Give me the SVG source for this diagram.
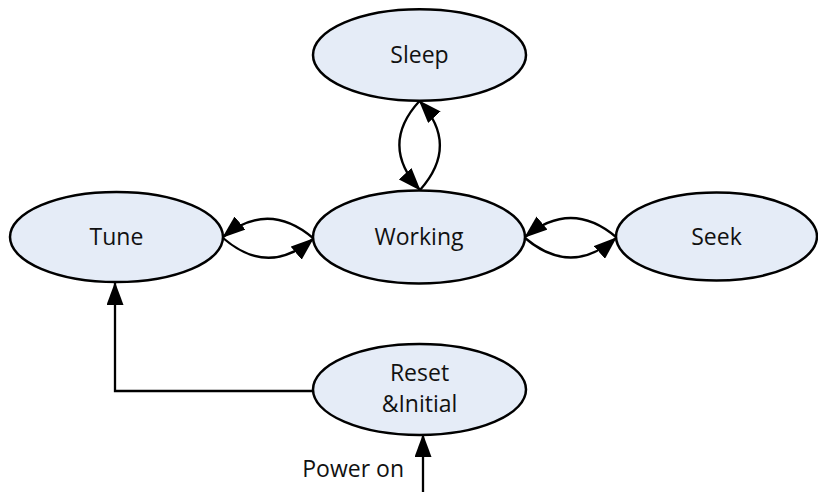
<svg xmlns="http://www.w3.org/2000/svg" width="818" height="492" viewBox="0 0 818 492">
  <style>
    .node ellipse { fill: #e5ecf7; stroke: #000; stroke-width: 2.5; }
    .node text { font-family: "Open Sans", "Liberation Sans", sans-serif; font-size: 23px; fill: #111; text-anchor: middle; }
    .edge { fill: none; stroke: #000; stroke-width: 2.3; }
    .lbl { font-family: "Open Sans", "Liberation Sans", sans-serif; font-size: 23px; fill: #111; text-anchor: end; }
  </style>
  <defs>
    <marker id="arrow" markerUnits="userSpaceOnUse" markerWidth="23" markerHeight="17" viewBox="0 0 23 17" refX="22" refY="8.5" orient="auto">
      <path d="M0,0 L23,8.5 L0,17 Z" fill="#000"/>
    </marker>
  </defs>
  <rect width="818" height="492" fill="#fff"/>

  <g id="connectors">
    <path class="edge" d="M419.5,101 Q379,145 420,190" marker-end="url(#arrow)"/>
    <path class="edge" d="M420,190 Q460,145 419.5,101" marker-end="url(#arrow)"/>
    <path class="edge" d="M313,238 Q268,200 223,237" marker-end="url(#arrow)"/>
    <path class="edge" d="M223,238 Q268,277 313,239" marker-end="url(#arrow)"/>
    <path class="edge" d="M616,237 Q571,199 525,237" marker-end="url(#arrow)"/>
    <path class="edge" d="M525,238 Q571,277 616,238" marker-end="url(#arrow)"/>
    <path class="edge" d="M313,391 L115,391 L115,283" marker-end="url(#arrow)"/>
    <path class="edge" d="M423,492 L423,435" marker-end="url(#arrow)"/>
    <text class="lbl" x="404" y="477">Power on</text>
  </g>

  <g id="sleep" class="node">
    <ellipse cx="419.5" cy="55" rx="106.5" ry="45.7"/>
    <text x="419.5" y="63">Sleep</text>
  </g>
  <g id="tune" class="node">
    <ellipse cx="116.5" cy="237" rx="106.5" ry="45"/>
    <text x="116.5" y="245">Tune</text>
  </g>
  <g id="working" class="node">
    <ellipse cx="419" cy="237" rx="106" ry="46.5"/>
    <text x="419" y="245">Working</text>
  </g>
  <g id="seek" class="node">
    <ellipse cx="716.5" cy="236.5" rx="100.5" ry="44"/>
    <text x="716.5" y="244.5">Seek</text>
  </g>
  <g id="reset" class="node">
    <ellipse cx="419.5" cy="389.5" rx="106.5" ry="45.5"/>
    <text x="419.5" y="381">Reset</text>
    <text x="419.5" y="412">&amp;Initial</text>
  </g>
</svg>
